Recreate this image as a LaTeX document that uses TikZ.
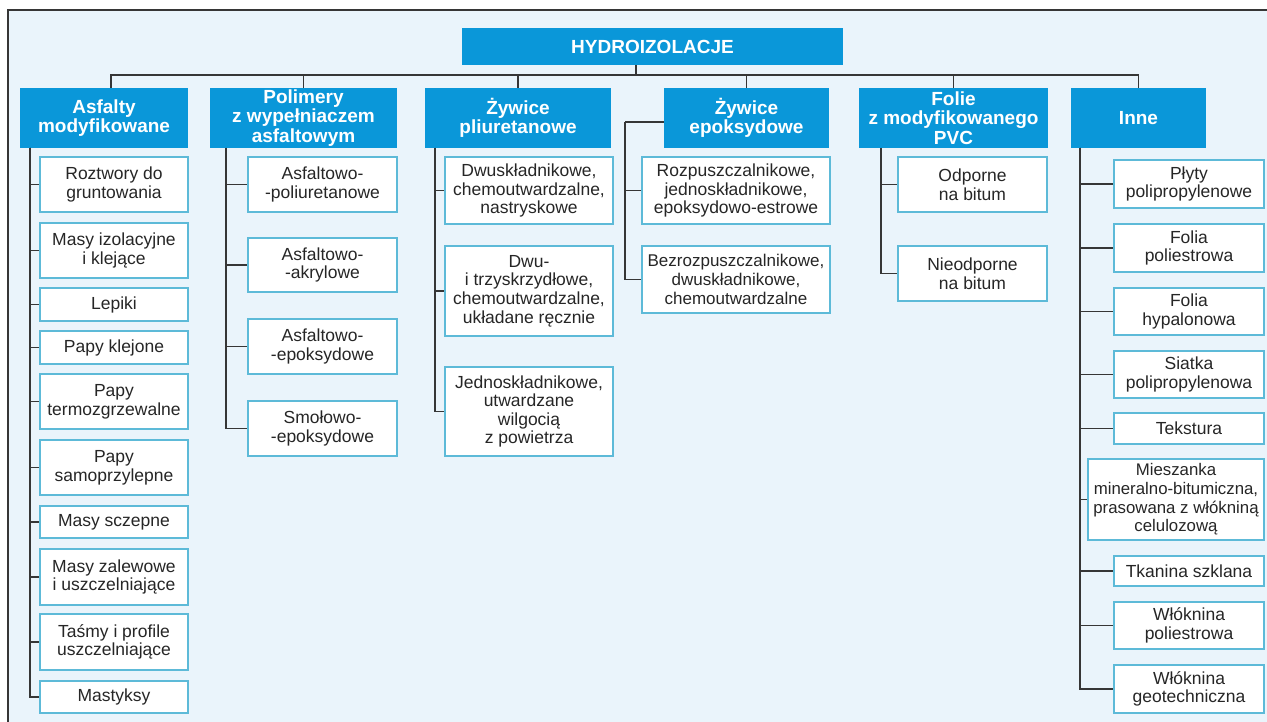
\documentclass[tikz,border=0pt]{standalone}
\usepackage{fontspec}
\setmainfont{Liberation Sans}
\usepackage{tikz}

\definecolor{headblue}{HTML}{0A97D9}
\definecolor{kidblue}{HTML}{5DBAD8}
\definecolor{paleblue}{HTML}{EAF4FB}
\definecolor{linegray}{HTML}{363636}

\newcommand{\hdfont}{\fontsize{19}{19.5}\selectfont\bfseries}
\newcommand{\kdfont}{\fontsize{17.5}{18.6}\selectfont}

\begin{document}
\begin{tikzpicture}[x=1pt,y=-1pt,
  head/.style={fill=headblue,text=white,font=\hdfont,align=center,inner sep=0pt,minimum height=60},
  kid/.style={draw=kidblue,fill=white,text=black!85,line width=1.2pt,font=\kdfont,align=center,inner sep=0pt},
  link/.style={draw=linegray,line width=1.4pt}]

\useasboundingbox (0,0) rectangle (1267,722);

% background and frame
\fill [paleblue] (8,10) rectangle (1267,722);
\draw [linegray,line width=1.4pt] (8,722) -- (8,10) -- (1267,10);

% top level
\node [head,minimum width=381,minimum height=37] (root) at (652.5,46.5) {HYDROIZOLACJE};

\node [head,minimum width=168] (asf) at (104,118) {Asfalty\\modyfikowane};
\node [head,minimum width=187] (pol) at (303.5,118) {Polimery\\z wypełniaczem\\asfaltowym};
\node [head,minimum width=186] (pur) at (518,118) {Żywice\\pliuretanowe};
\node [head,minimum width=165] (epo) at (746.5,118) {Żywice\\epoksydowe};
\node [head,minimum width=189] (fol) at (953.5,118) {Folie\\z modyfikowanego\\PVC};
\node [head,minimum width=135] (inne) at (1138.5,118) {Inne};

\coordinate (bar) at (636,75);
\draw [link] (root.south -| bar) -- (bar);
\draw [link] ([xshift=7]asf.north) |- (bar) -| (inne.north);
\foreach \h in {pol,pur,epo,fol}
  \draw [link] (\h.north) -- (\h.north |- bar);

% asfalty
\node [kid,minimum width=148,minimum height=55] (a1) at (114,184.5) {Roztwory do\\gruntowania};
\node [kid,minimum width=148,minimum height=55] (a2) at (114,250.5) {Masy izolacyjne\\i klejące};
\node [kid,minimum width=148,minimum height=33] (a3) at (114,304.5) {Lepiki};
\node [kid,minimum width=148,minimum height=33] (a4) at (114,347.5) {Papy klejone};
\node [kid,minimum width=148,minimum height=55] (a5) at (114,401.5) {Papy\\termozgrzewalne};
\node [kid,minimum width=148,minimum height=55] (a6) at (114,467.5) {Papy\\samoprzylepne};
\node [kid,minimum width=148,minimum height=32] (a7) at (114,522) {Masy sczepne};
\node [kid,minimum width=148,minimum height=56] (a8) at (114,577) {Masy zalewowe\\i uszczelniające};
\node [kid,minimum width=148,minimum height=56] (a9) at (114,642) {Taśmy i profile\\uszczelniające};
\node [kid,minimum width=148,minimum height=32] (a10) at (114,697) {Mastyksy};

\coordinate (spA) at (30,148);
\foreach \k in {1,...,10}
  \draw [link] (spA) |- (a\k.west);

% polimery
\node [kid,minimum width=149,minimum height=55] (p1) at (322.5,184.5) {Asfaltowo-\\-poliuretanowe};
\node [kid,minimum width=149,minimum height=54] (p2) at (322.5,265) {Asfaltowo-\\-akrylowe};
\node [kid,minimum width=149,minimum height=55] (p3) at (322.5,346.5) {Asfaltowo-\\-epoksydowe};
\node [kid,minimum width=149,minimum height=55] (p4) at (322.5,428.5) {Smołowo-\\-epoksydowe};

\coordinate (spP) at (226,148);
\foreach \k in {1,...,4}
  \draw [link] (spP) |- (p\k.west);

% zywice pliuretanowe
\node [kid,minimum width=168,minimum height=67] (u1) at (529,190.5) {Dwuskładnikowe,\\chemoutwardzalne,\\nastryskowe};
\node [kid,minimum width=168,minimum height=90] (u2) at (529,291) {Dwu-\\i trzyskrzydłowe,\\chemoutwardzalne,\\układane ręcznie};
\node [kid,minimum width=168,minimum height=89] (u3) at (529,411.5) {Jednoskładnikowe,\\utwardzane\\wilgocią\\z powietrza};

\coordinate (spU) at (435,148);
\foreach \k in {1,...,3}
  \draw [link] (spU) |- (u\k.west);

% zywice epoksydowe
\node [kid,minimum width=188,minimum height=67] (e1) at (736,190.5) {Rozpuszczalnikowe,\\jednoskładnikowe,\\epoksydowo-estrowe};
\node [kid,minimum width=188,minimum height=67,font=\fontsize{17}{18.6}\selectfont] (e2) at (736,279.5) {Bezrozpuszczalnikowe,\\dwuskładnikowe,\\chemoutwardzalne};

\coordinate (spE) at (625,122);
\draw [link] (epo.west |- spE) -- (spE);
\foreach \k in {1,2}
  \draw [link] (spE) |- (e\k.west);

% folie
\node [kid,minimum width=149,minimum height=55] (f1) at (972.5,184.5) {Odporne\\na bitum};
\node [kid,minimum width=149,minimum height=55] (f2) at (972.5,273.5) {Nieodporne\\na bitum};

\coordinate (spF) at (881,148);
\foreach \k in {1,2}
  \draw [link] (spF) |- (f\k.west);

% inne
\node [kid,minimum width=150,minimum height=48] (i1) at (1189,184) {Płyty\\polipropylenowe};
\node [kid,minimum width=150,minimum height=48] (i2) at (1189,248) {Folia\\poliestrowa};
\node [kid,minimum width=150,minimum height=47] (i3) at (1189,311.5) {Folia\\hypalonowa};
\node [kid,minimum width=150,minimum height=47] (i4) at (1189,374.5) {Siatka\\polipropylenowa};
\node [kid,minimum width=150,minimum height=31] (i5) at (1189,428.5) {Tekstura};
\node [kid,minimum width=176,minimum height=81,font=\fontsize{16.8}{18.6}\selectfont] (i6) at (1176,499.5) {Mieszanka\\mineralno-bitumiczna,\\prasowana z włókniną\\celulozową};
\node [kid,minimum width=150,minimum height=30] (i7) at (1189,571) {Tkanina szklana};
\node [kid,minimum width=150,minimum height=47] (i8) at (1189,625.5) {Włóknina\\poliestrowa};
\node [kid,minimum width=150,minimum height=48] (i9) at (1189,689) {Włóknina\\geotechniczna};

\coordinate (spI) at (1080,148);
\foreach \k in {1,...,9}
  \draw [link] (spI) |- (i\k.west);

\end{tikzpicture}
\end{document}
